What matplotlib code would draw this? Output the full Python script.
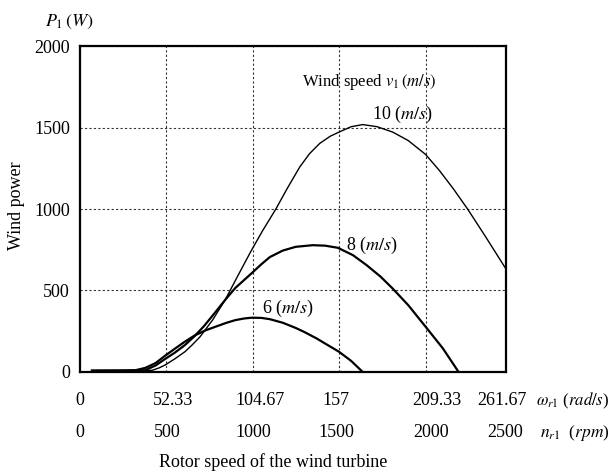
import matplotlib
matplotlib.use("Agg")
import matplotlib.pyplot as plt

plt.rcParams['font.family'] = ['Liberation Serif', 'DejaVu Serif']
plt.rcParams['mathtext.fontset'] = 'stix'

# rotor speed (rpm) and wind power (W)
rpm_6 = [72, 250, 320, 380, 440, 495, 550, 609, 667, 730, 792, 850, 900, 950,
         994, 1050, 1100, 1175, 1250, 1300, 1370, 1430, 1500, 1570, 1637]
power_6 = [8, 8, 10, 25, 55, 100, 142, 186, 225, 256, 280, 302, 318, 328,
           333, 332, 324, 302, 270, 245, 206, 168, 124, 68, 0]

rpm_8 = [72, 378, 440, 495, 550, 609, 667, 720, 780, 841, 900, 994, 1050, 1100,
         1175, 1250, 1348, 1420, 1493, 1580, 1660, 1740, 1810, 1900, 2000,
         2100, 2191]
power_8 = [8, 10, 40, 80, 118, 165, 222, 282, 360, 441, 515, 605, 660, 705,
           745, 768, 778, 775, 762, 717, 655, 585, 512, 410, 278, 145, 0]

rpm_10 = [72, 419, 460, 495, 550, 609, 650, 696, 770, 841, 920, 994, 1060,
          1135, 1200, 1273, 1330, 1389, 1450, 1500, 1570, 1637, 1720, 1810,
          1900, 2000, 2081, 2160, 2243, 2350, 2462]
power_10 = [8, 10, 25, 43, 80, 124, 165, 215, 320, 441, 600, 747, 870,
            1000, 1125, 1258, 1340, 1403, 1447, 1472, 1505, 1518, 1505, 1472,
            1420, 1335, 1235, 1125, 1000, 825, 637]

rpm_ticks = [0, 500, 1000, 1500, 2000, 2500]
rad_labels = ['0', '52.33', '104.67', '157', '209.33', '261.67']
rpm_labels = ['0', '500', '1000', '1500', '2000', '2500']
power_ticks = [0, 500, 1000, 1500, 2000]

fig = plt.figure(figsize=(6.14, 4.72), dpi=100)
ax = fig.add_axes([0.1295, 0.2119, 0.6946, 0.6906])

ax.plot(rpm_6, power_6, color='black', lw=1.6)
ax.plot(rpm_8, power_8, color='black', lw=1.6)
ax.plot(rpm_10, power_10, color='black', lw=1.0)

ax.set_xlim(0, 2465)
ax.set_ylim(0, 2000)
ax.set_xticks(rpm_ticks[1:-1])
ax.set_xticklabels([])
ax.set_yticks(power_ticks)
ax.tick_params(axis='both', length=0, labelsize=13)
ax.tick_params(axis='y', pad=7)
ax.grid(True, color='#333333', linestyle=(0, (2, 2)), lw=0.8)
for sp in ax.spines.values():
    sp.set_linewidth(1.6)

# two rows of x tick labels (rad/s and rpm)
row1_dx = [0, 7, 8, -3, 11, -10]
row2_dx = [0, 1, 1, -3, 6, -7]
for val, lab, dx in zip(rpm_ticks, rad_labels, row1_dx):
    ax.annotate(lab, xy=(val, 0), xycoords=('data', 'axes fraction'),
                xytext=(dx, -29), textcoords='offset pixels',
                ha='center', va='center', fontsize=13)
for val, lab, dx in zip(rpm_ticks, rpm_labels, row2_dx):
    ax.annotate(lab, xy=(val, 0), xycoords=('data', 'axes fraction'),
                xytext=(dx, -61), textcoords='offset pixels',
                ha='center', va='center', fontsize=13)

W, H = 614, 472
fig.text(536 / W, 1 - 401 / H, r'$\omega_{r\mathrm{1}}$ ($rad/s$)',
         ha='left', va='center', fontsize=12)
fig.text(540 / W, 1 - 433 / H, r'$n_{r\mathrm{1}}$  ($rpm$)',
         ha='left', va='center', fontsize=12.5)
fig.text(273 / W, 1 - 462 / H, 'Rotor speed of the wind turbine',
         ha='center', va='center', fontsize=13)
fig.text(17 / W, 1 - 206 / H, 'Wind power', rotation=90,
         ha='center', va='center', fontsize=13)
fig.text(45 / W, 1 - 22 / H, r'$P_\mathit{1}\,(W)$',
         ha='left', va='center', fontsize=13)

fig.text(302 / W, 1 - 82 / H, r'Wind speed $v_\mathit{1}\,(m/s)$',
         ha='left', va='center', fontsize=12)
fig.text(372 / W, 1 - 114 / H, r'10 ($m/s$)', ha='left', va='center', fontsize=13)
fig.text(346 / W, 1 - 245 / H, r'8 ($m/s$)', ha='left', va='center', fontsize=13)
fig.text(262 / W, 1 - 308 / H, r'6 ($m/s$)', ha='left', va='center', fontsize=13)

fig.savefig('out.png', dpi=100)
